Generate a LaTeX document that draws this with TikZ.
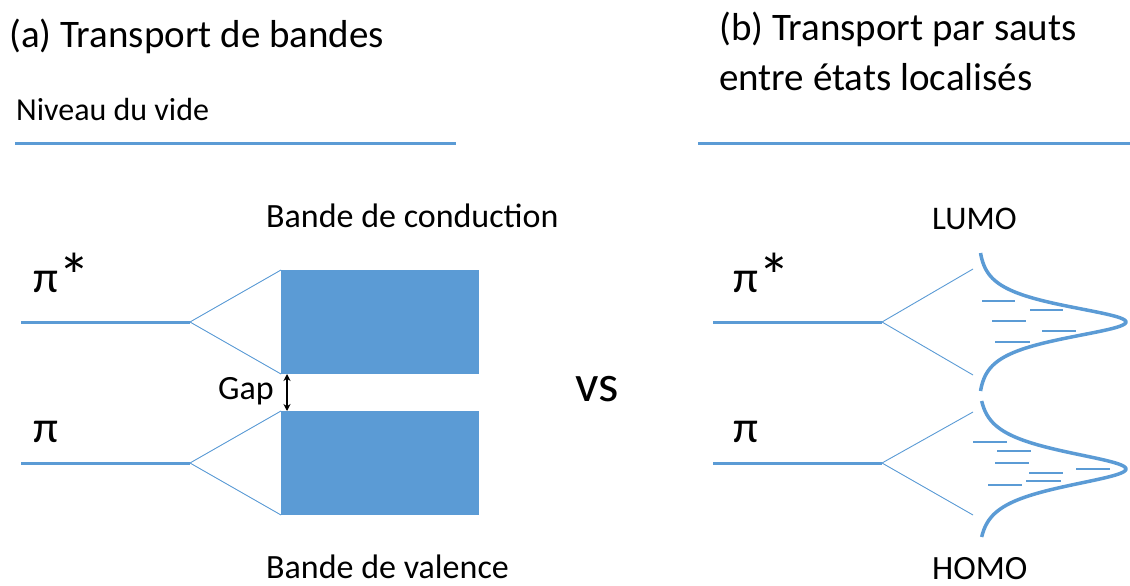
\documentclass[tikz,border=0pt]{standalone}
\usepackage{fontspec}
\setmainfont{Carlito}
\usetikzlibrary{arrows.meta}
\definecolor{oblue}{HTML}{5B9BD5}
\newcommand{\bigstar}{\raisebox{-6pt}{\fontsize{64}{64}\selectfont *}}
\tikzset{
  txt/.style={inner sep=0pt, anchor=base west, text=black},
  level/.style={draw=oblue, line width=3pt},
  thin/.style={draw=oblue, line width=0.9pt},
  dos/.style={draw=oblue, line width=3.5pt},
  state/.style={draw=oblue, line width=1.2pt},
  band/.style={fill=oblue, draw=none}
}
\begin{document}
\begin{tikzpicture}[x=1pt,y=-1pt]
\useasboundingbox (0,0) rectangle (1130,586);
% titles
\node[txt, font=\fontsize{39}{47}\selectfont] (ta) at (9,48) {(a) Transport de bandes};
\node[txt, font=\fontsize{39}{47}\selectfont] (tb1) at (719,41) {(b) Transport par sauts};
\node[txt, font=\fontsize{39}{47}\selectfont] (tb2) at (719,90) {entre états localisés};
\node[txt, font=\fontsize{32}{38}\selectfont] (vide) at (16,121) {Niveau du vide};
% vacuum levels
\coordinate (va1) at (15,143); \coordinate (va2) at (456,143);
\coordinate (vb1) at (698,143); \coordinate (vb2) at (1130,143);
\draw[level] (va1) -- (va2);
\draw[level] (vb1) -- (vb2);
% ---- (a) band transport
\node[txt, font=\fontsize{45}{54}\selectfont] (pisa) at (33,292) {π\bigstar};
\node[txt, font=\fontsize{45}{54}\selectfont] (pia) at (33,442) {π};
\coordinate (la1) at (21,322); \coordinate (la2) at (190,322);
\coordinate (lb1) at (21,463); \coordinate (lb2) at (190,463);
\draw[level] (la1) -- (la2);
\draw[level] (lb1) -- (lb2);
\fill[band] (281,270) rectangle (479,374);
\fill[band] (281,411) rectangle (479,515);
\coordinate (ca) at (281,270); \coordinate (cb) at (281,374);
\coordinate (vaa) at (281,411); \coordinate (vbb) at (281,515);
\draw[thin] (ca) -- (la2) -- (cb);
\draw[thin] (vaa) -- (lb2) -- (vbb);
\node[txt, font=\fontsize{34}{41}\selectfont] (bc) at (266,227) {Bande de conduction};
\node[txt, text depth=0pt, font=\fontsize{34}{41}\selectfont] (bv) at (266,578) {Bande de valence};
\node[inner sep=0pt, anchor=base east, font=\fontsize{34}{41}\selectfont] (gap) at (274,399) {Gap};
\coordinate (g1) at (287,374); \coordinate (g2) at (287,411);
\draw[{Stealth[length=7pt,width=7pt]}-{Stealth[length=7pt,width=7pt]}, line width=1.5pt] (g1) -- (g2);
% vs
\node[txt, font=\fontsize{52}{62}\selectfont] (vs) at (575,401) {vs};
% ---- (b) hopping transport
\node[txt, font=\fontsize{45}{54}\selectfont] (pisb) at (733,292) {π\bigstar};
\node[txt, font=\fontsize{45}{54}\selectfont] (pib) at (733,442) {π};
\coordinate (ra1) at (713,322); \coordinate (ra2) at (882,322);
\coordinate (rb1) at (713,463); \coordinate (rb2) at (882,463);
\draw[level] (ra1) -- (ra2);
\draw[level] (rb1) -- (rb2);
\coordinate (ua) at (973,269); \coordinate (ub) at (973,375);
\coordinate (da) at (973,412); \coordinate (db) at (973,515);
\draw[thin] (ua) -- (ra2) -- (ub);
\draw[thin] (da) -- (rb2) -- (db);
\draw[dos] plot[domain=-69:69, samples=120, variable=\t, smooth] ({978+148/cosh(\t/14.5)}, {322+\t});
\draw[dos] plot[domain=-68:68, samples=120, variable=\t, smooth] ({978+148/cosh(\t/15.5)}, {469+\t});
% localized states
\foreach \a/\b/\y in {982/1015/301, 1030/1063/310, 992/1026/321, 1042/1076/331, 995/1030/342,
  973/1007/442, 997/1031/451, 995/1029/463, 1076/1110/469, 1029/1063/473, 1026/1061/481, 988/1022/485}
  \draw[state] (\a,\y) -- (\b,\y);
\node[txt, font=\fontsize{33}{40}\selectfont] (lumo) at (932,229) {LUMO};
\node[txt, text depth=0pt, font=\fontsize{34}{41}\selectfont] (homo) at (932,579) {HOMO};
\end{tikzpicture}
\end{document}
